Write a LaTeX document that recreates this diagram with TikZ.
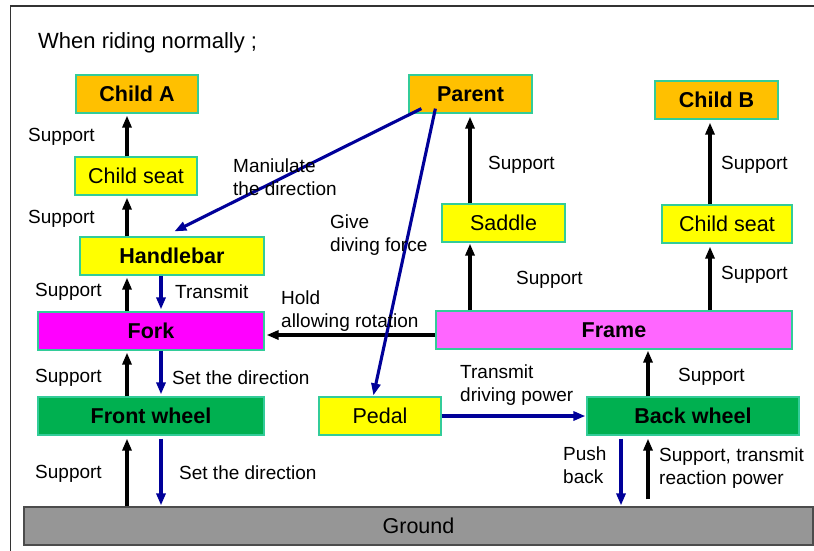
\documentclass[tikz,border=0pt]{standalone}
\usepackage{fontspec}
\setmainfont{Liberation Sans}
\usetikzlibrary{arrows.meta,calc}

\definecolor{boxline}{RGB}{51,204,153}
\definecolor{orangefill}{RGB}{255,192,0}
\definecolor{yellowfill}{RGB}{255,255,0}
\definecolor{forkfill}{RGB}{255,0,255}
\definecolor{framefill}{RGB}{255,102,255}
\definecolor{wheelfill}{RGB}{0,176,80}
\definecolor{groundfill}{RGB}{150,150,150}
\definecolor{flow}{RGB}{0,0,153}

\begin{document}
\begin{tikzpicture}[x=1pt,y=-1pt,
  part/.style={draw=boxline,line width=1.2pt,minimum height=38pt,inner sep=0pt,
    font=\fontsize{21.5}{24}\selectfont},
  key/.style={part,font=\fontsize{21.5}{24}\selectfont\bfseries},
  lbl/.style={anchor=north west,inner sep=0pt,align=left,
    font=\fontsize{19}{23}\selectfont},
  sup/.style={line width=3.1pt,-{Triangle[length=12pt,width=9pt]},shorten >=2pt},
  act/.style={sup,draw=flow}]

\useasboundingbox (0,0) rectangle (814,550);

% page frame
\draw[line width=1.5pt,black!80] (814,6) -- (10.5,6) -- (10.5,552);

% title
\node[lbl,font=\fontsize{22}{26}\selectfont] (title) at (38,32) {When riding normally ;};

% parts
\node[key,fill=orangefill,minimum width=122pt] (childA) at (137,94) {Child A};
\node[part,fill=yellowfill,minimum width=122pt] (seatA) at (136,176) {Child seat};
\node[key,fill=yellowfill,minimum width=184pt] (handlebar) at (172,256) {Handlebar};
\node[key,fill=forkfill,minimum width=226pt] (fork) at (151,331) {Fork};
\node[key,fill=wheelfill,minimum width=226pt] (front) at (151,416) {Front wheel};
\node[part,fill=yellowfill,minimum width=122pt] (pedal) at (380,416) {Pedal};
\node[key,fill=wheelfill,minimum width=212pt] (back) at (693,416) {Back wheel};
\node[key,fill=framefill,minimum width=356pt] (frame) at (614,330) {Frame};
\node[part,fill=yellowfill,minimum width=123pt] (saddle) at (503.5,223) {Saddle};
\node[part,fill=yellowfill,minimum width=130pt] (seatB) at (727,224) {Child seat};
\node[key,fill=orangefill,minimum width=123pt] (parent) at (470.5,94) {Parent};
\node[key,fill=orangefill,minimum width=123pt] (childB) at (716.5,100) {Child B};
\node[part,fill=groundfill,draw=black!70,minimum width=789pt] (ground) at (418.5,526) {Ground};

% arrow columns
\coordinate (cA) at (127,0);
\coordinate (cB) at (161,0);
\coordinate (cS) at (470,0);
\coordinate (cC) at (710,0);
\coordinate (cW) at (648,0);
\coordinate (cP) at (621,0);
\coordinate (hy) at (0,335);

% support chain, left
\draw[sup] (seatA.north -| cA) -- (childA.south -| cA);
\draw[sup] (handlebar.north -| cA) -- (seatA.south -| cA);
\draw[sup] (fork.north -| cA) -- (handlebar.south -| cA);
\draw[sup] (front.north -| cA) -- (fork.south -| cA);
\draw[sup,shorten >=3pt] (ground.north -| cA) -- (front.south -| cA);

% steering chain
\draw[act] (handlebar.south -| cB) -- (fork.north -| cB);
\draw[act] (fork.south -| cB) -- (front.north -| cB);
\draw[act,shorten <=3pt,shorten >=1pt] (front.south -| cB) -- (ground.north -| cB);

% frame holds fork
\draw[sup] (frame.west |- hy) -- (fork.east |- hy);

% parent actions
\draw[act,shorten >=0pt] ($(parent.south west)+(13,-5)$) -- ($(handlebar.north west)+(95,-5)$);
\draw[act,shorten >=0pt] ($(parent.south west)+(27,-5)$) -- ($(pedal.north west)+(55,-1)$);

% support chain, right
\draw[sup,shorten >=3pt] (saddle.north -| cS) -- (parent.south -| cS);
\draw[sup,shorten >=1pt] (frame.north -| cS) -- (saddle.south -| cS);
\draw[sup,shorten >=3pt] (seatB.north -| cC) -- (childB.south -| cC);
\draw[sup,shorten >=3pt] (frame.north -| cC) -- (seatB.south -| cC);
\draw[sup,shorten >=1pt] (back.north -| cW) -- (frame.south -| cW);

% drive train
\draw[act,shorten >=1pt] (pedal.east) -- (back.west);
\draw[act,shorten <=3pt,shorten >=1pt] (back.south -| cP) -- (ground.north -| cP);
\draw[sup,shorten <=7pt,shorten >=3pt] (ground.north -| cW) -- (back.south -| cW);

% labels
\node[lbl] (l1) at (28,128) {Support};
\node[lbl] (l2) at (28,210) {Support};
\node[lbl] (l3) at (35,283) {Support};
\node[lbl] (l4) at (175,285) {Transmit};
\node[lbl] (l5) at (233,159) {Maniulate\\the direction};
\node[lbl] (l6) at (330,215) {Give\\diving force};
\node[lbl] (l7) at (488,156) {Support};
\node[lbl] (l8) at (516,271) {Support};
\node[lbl] (l9) at (721,156) {Support};
\node[lbl] (l10) at (721,266) {Support};
\node[lbl] (l11) at (281,291) {Hold\\allowing rotation};
\node[lbl] (l12) at (35,369) {Support};
\node[lbl] (l13) at (172,371) {Set the direction};
\node[lbl] (l14) at (35,465) {Support};
\node[lbl] (l15) at (179,466) {Set the direction};
\node[lbl] (l16) at (460,365) {Transmit\\driving power};
\node[lbl] (l17) at (678,368) {Support};
\node[lbl] (l18) at (563,447) {Push\\back};
\node[lbl] (l19) at (659,448) {Support, transmit\\reaction power};

\end{tikzpicture}
\end{document}
